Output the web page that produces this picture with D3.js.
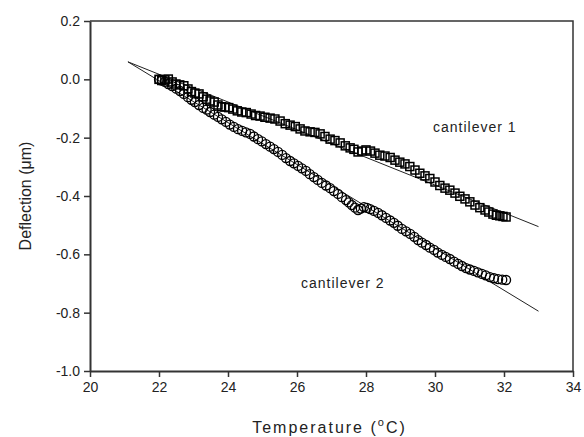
<!DOCTYPE html>
<html lang="en">
<head>
  <meta charset="utf-8" />
  <title>Cantilever deflection</title>
  <script src="https://cdn.jsdelivr.net/npm/d3@7"></script>
  <style>
    body { margin: 0; background: #fff; }
    svg text { font-family: Arial, "Liberation Sans", sans-serif; fill: #222; }
  </style>
</head>
<body>
  <div id="chart"></div>
  <script type="text/javascript">

    const w = 584;
    const h = 437;
    const margin = {top: 21, right: 11, bottom: 66, left: 90};

    // cantilever 1 (squares)
    const temp1 = [22.0, 22.08, 22.17, 22.27, 22.38, 22.49, 22.6, 22.72, 22.84, 22.94,
                   23.04, 23.16, 23.28, 23.38, 23.48, 23.6, 23.71, 23.81, 23.91, 24.02,
                   24.14, 24.27, 24.4, 24.53, 24.67, 24.8, 24.93, 25.07, 25.22, 25.36,
                   25.51, 25.66, 25.8, 25.95, 26.09, 26.23, 26.38, 26.52, 26.67, 26.81,
                   26.96, 27.1, 27.25, 27.4, 27.54, 27.65, 27.77, 27.88, 28.0, 28.13,
                   28.26, 28.4, 28.55, 28.7, 28.84, 28.98, 29.13, 29.27, 29.42, 29.56,
                   29.71, 29.85, 30.0, 30.14, 30.29, 30.43, 30.58, 30.72, 30.87, 31.01,
                   31.16, 31.3, 31.45, 31.56, 31.68, 31.78, 31.88, 31.97, 32.06];
    const defl1 = [0.0, -0.004, -0.002, 0.001, -0.009, -0.016, -0.019, -0.022, -0.033, -0.042,
                   -0.047, -0.05, -0.06, -0.068, -0.074, -0.078, -0.088, -0.094, -0.095, -0.097,
                   -0.102, -0.108, -0.112, -0.114, -0.119, -0.124, -0.126, -0.13, -0.133, -0.136,
                   -0.143, -0.152, -0.157, -0.162, -0.17, -0.177, -0.18, -0.182, -0.187, -0.196,
                   -0.205, -0.21, -0.218, -0.228, -0.235, -0.24, -0.249, -0.246, -0.242, -0.246,
                   -0.253, -0.26, -0.263, -0.268, -0.277, -0.284, -0.29, -0.299, -0.311, -0.322,
                   -0.331, -0.34, -0.352, -0.364, -0.373, -0.38, -0.39, -0.401, -0.41, -0.42,
                   -0.431, -0.44, -0.448, -0.455, -0.462, -0.466, -0.468, -0.47, -0.472];

    // cantilever 2 (circles)
    const temp2 = [22.0, 22.08, 22.17, 22.27, 22.38, 22.5, 22.61, 22.72, 22.84, 22.94,
                   23.04, 23.16, 23.28, 23.38, 23.48, 23.6, 23.71, 23.82, 23.94, 24.05,
                   24.17, 24.29, 24.41, 24.52, 24.64, 24.75, 24.87, 24.98, 25.1, 25.22,
                   25.33, 25.45, 25.57, 25.68, 25.8, 25.91, 26.03, 26.14, 26.26, 26.37,
                   26.49, 26.6, 26.72, 26.84, 26.96, 27.07, 27.19, 27.3, 27.42, 27.5,
                   27.59, 27.68, 27.77, 27.85, 27.94, 28.03, 28.12, 28.23, 28.35, 28.46,
                   28.58, 28.7, 28.81, 28.92, 29.04, 29.16, 29.28, 29.4, 29.51, 29.62,
                   29.74, 29.85, 29.97, 30.08, 30.2, 30.31, 30.43, 30.55, 30.67, 30.78,
                   30.9, 31.01, 31.13, 31.24, 31.36, 31.47, 31.59, 31.71, 31.83, 31.95, 32.06];
    const defl2 = [0.0, -0.004, -0.009, -0.016, -0.023, -0.032, -0.04, -0.05, -0.061, -0.07,
                   -0.078, -0.088, -0.098, -0.104, -0.112, -0.121, -0.129, -0.137, -0.146, -0.155,
                   -0.163, -0.171, -0.177, -0.182, -0.187, -0.196, -0.205, -0.213, -0.222, -0.231,
                   -0.239, -0.249, -0.259, -0.27, -0.28, -0.288, -0.297, -0.305, -0.314, -0.325,
                   -0.335, -0.345, -0.355, -0.364, -0.373, -0.383, -0.393, -0.404, -0.414, -0.422,
                   -0.431, -0.44, -0.448, -0.443, -0.438, -0.441, -0.445, -0.451, -0.458, -0.466,
                   -0.475, -0.484, -0.492, -0.502, -0.513, -0.521, -0.53, -0.54, -0.551, -0.56,
                   -0.568, -0.577, -0.585, -0.594, -0.602, -0.609, -0.616, -0.625, -0.633, -0.64,
                   -0.647, -0.652, -0.657, -0.662, -0.667, -0.672, -0.678, -0.682, -0.685, -0.687, -0.688];

    // linear fits (end points)
    const fit1 = [[21.1, 0.06], [33.0, -0.505]];
    const fit2 = [[21.1, 0.06], [33.0, -0.795]];

    const xTicks = [20, 22, 24, 26, 28, 30, 32, 34];
    const yTicks = [0.2, 0.0, -0.2, -0.4, -0.6, -0.8, -1.0];

    const svg = d3.select("#chart")
                  .append("svg")
                  .attr("width", w)
                  .attr("height", h);

    const x = d3.scaleLinear().domain([20, 34]).range([margin.left, w - margin.right]);
    const y = d3.scaleLinear().domain([-1.0, 0.2]).range([h - margin.bottom, margin.top]);

    // frame top / right
    svg.append("path")
       .attr("d", `M${x(20)},${y(0.2)}H${x(34)}V${y(-1.0)}`)
       .attr("fill", "none")
       .attr("stroke", "#333")
       .attr("stroke-width", 1.5);

    const xAxis = svg.append("g")
       .attr("transform", `translate(0,${y(-1.0)})`)
       .call(d3.axisBottom(x).tickValues(xTicks).tickSize(6).tickSizeOuter(0).tickPadding(5).tickFormat(d3.format("d")));
    const yAxis = svg.append("g")
       .attr("transform", `translate(${x(20)},0)`)
       .call(d3.axisLeft(y).tickValues(yTicks).tickSize(6).tickSizeOuter(0).tickPadding(4).tickFormat(d3.format(".1f")));

    [xAxis, yAxis].forEach(g => {
      g.select(".domain").attr("stroke", "#333").attr("stroke-width", 2);
      g.selectAll(".tick line").attr("stroke", "#333").attr("stroke-width", 1.5);
      g.selectAll(".tick text").attr("font-size", 14).style("fill", "#222");
    });
    yAxis.selectAll(".tick text").text(d => d3.format(".1f")(d).replace("−", "-"));

    const line = d3.line().x(d => x(d[0])).y(d => y(d[1]));

    svg.append("path").datum(fit1).attr("d", line)
       .attr("fill", "none").attr("stroke", "#222").attr("stroke-width", 1);
    svg.append("path").datum(fit2).attr("d", line)
       .attr("fill", "none").attr("stroke", "#222").attr("stroke-width", 1);

    const s = 8;
    svg.append("g").selectAll("rect")
       .data(d3.zip(temp1, defl1))
       .enter()
       .append("rect")
       .attr("x", d => x(d[0]) - s / 2)
       .attr("y", d => y(d[1]) - s / 2)
       .attr("width", s)
       .attr("height", s)
       .attr("fill", "none")
       .attr("stroke", "#000")
       .attr("stroke-width", 1.5);

    svg.append("g").selectAll("circle")
       .data(d3.zip(temp2, defl2))
       .enter()
       .append("circle")
       .attr("cx", d => x(d[0]))
       .attr("cy", d => y(d[1]))
       .attr("r", 4.5)
       .attr("fill", "none")
       .attr("stroke", "#000")
       .attr("stroke-width", 1.3);

    // labels
    svg.append("text").attr("x", 433).attr("y", 132)
       .attr("font-size", 14).style("letter-spacing", "1px").text("cantilever 1");
    svg.append("text").attr("x", 301).attr("y", 288)
       .attr("font-size", 14).style("letter-spacing", "1px").text("cantilever 2");

    const xt = svg.append("text")
       .attr("x", (x(20) + x(34)) / 2 - 2).attr("y", 433)
       .attr("text-anchor", "middle")
       .attr("font-size", 16).style("letter-spacing", "2px");
    xt.append("tspan").text("Temperature (");
    xt.append("tspan").attr("font-size", 11).attr("dy", -7).text("o");
    xt.append("tspan").attr("dy", 7).text("C)");

    svg.append("text")
       .attr("transform", `translate(31,${(y(0.2) + y(-1.0)) / 2}) rotate(-90)`)
       .attr("text-anchor", "middle")
       .attr("font-size", 16)
       .text("Deflection (\u03bcm)");

  </script>
</body>
</html>
